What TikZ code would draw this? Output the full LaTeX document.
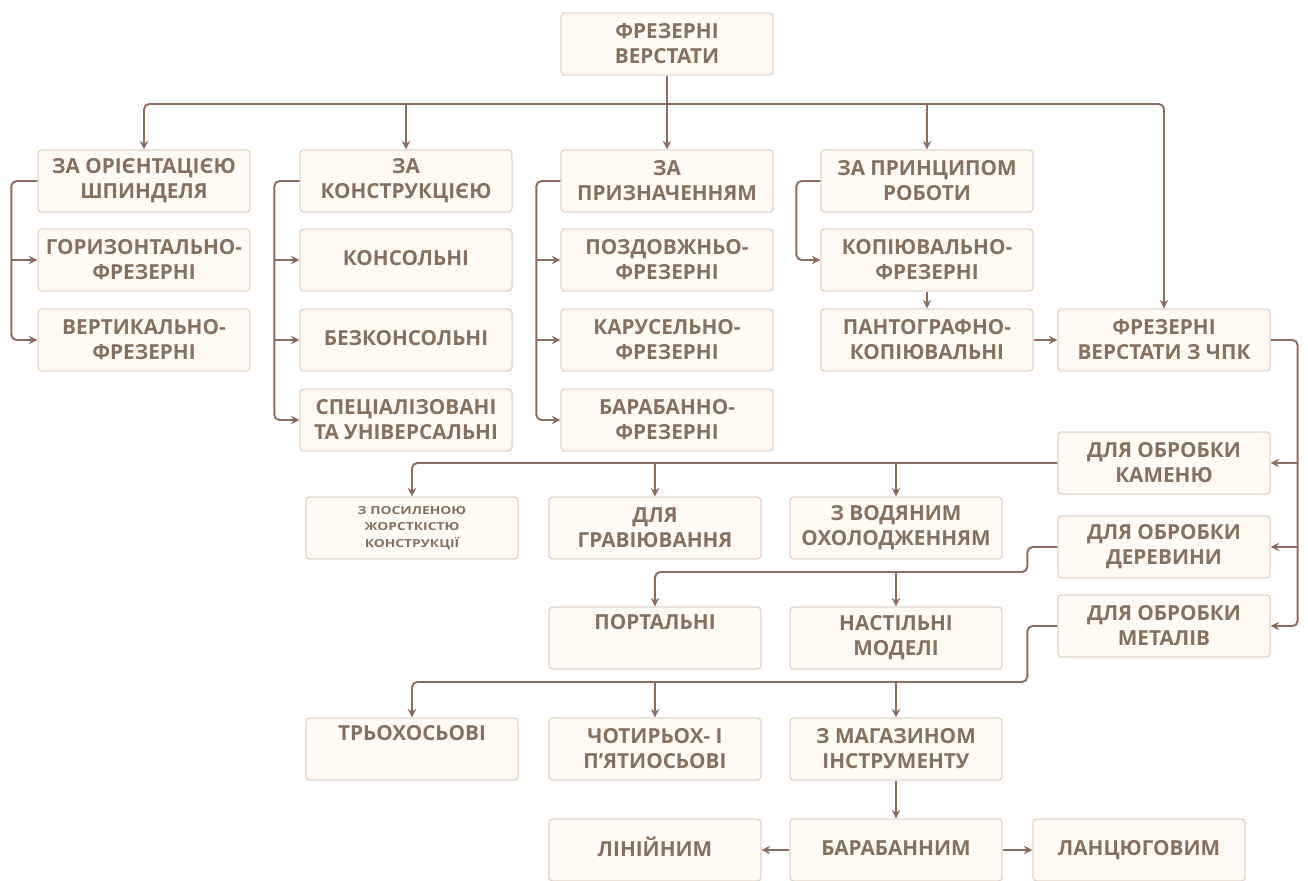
\documentclass[tikz,border=0pt]{standalone}
\usepackage{fontspec}
\setmainfont{Open Sans}[Ligatures=ResetAll]
\newfontfamily\widesans{Open Sans}[FakeStretch=1.25]
\usetikzlibrary{positioning,arrows.meta,calc}
\definecolor{linec}{HTML}{8C6C5E}
\definecolor{textc}{HTML}{86705F}
\definecolor{boxdraw}{HTML}{E3D4C7}
\definecolor{boxfill}{HTML}{FFFAF3}
\tikzstyle{box}=[draw=boxdraw, fill=boxfill, line width=0.8pt, rounded corners=2pt, text=textc, align=center, minimum width=4.24cm, minimum height=1.24cm, inner sep=1pt, font=\bfseries\fontsize{11.8}{14.3}\selectfont]
\tikzstyle{arr}=[draw=linec, line width=1.1pt, -{Stealth[length=4.8pt,width=4.8pt]}]

\begin{document}
\begin{tikzpicture}[x=0.02cm,y=-0.02cm]
   \useasboundingbox (0,0) rectangle (1308,880);
   \node[box] (root)    at (667,44)  {ФРЕЗЕРНІ\\ВЕРСТАТИ};
   % first level
   \node[box] (orient)  at (144,181) {ЗА ОРІЄНТАЦІЄЮ\\ШПИНДЕЛЯ};
   \node[box] (constr)  at (406,181) {ЗА\\КОНСТРУКЦІЄЮ};
   \node[box] (purp)    at (667,181) {ЗА\\ПРИЗНАЧЕННЯМ};
   \node[box] (princ)   at (927,181) {ЗА ПРИНЦИПОМ\\РОБОТИ};
   \node[box] (horiz)   at (144,260) {ГОРИЗОНТАЛЬНО-\\ФРЕЗЕРНІ};
   \node[box] (vert)    at (144,340) {ВЕРТИКАЛЬНО-\\ФРЕЗЕРНІ};
   \node[box] (cons)    at (406,260) {\strut КОНСОЛЬНІ};
   \node[box] (bezcons) at (406,340) {\strut БЕЗКОНСОЛЬНІ};
   \node[box] (spec)    at (406,420) {СПЕЦІАЛІЗОВАНІ\\ТА УНІВЕРСАЛЬНІ};
   \node[box] (longit)  at (667,260) {ПОЗДОВЖНЬО-\\ФРЕЗЕРНІ};
   \node[box] (carous)  at (667,340) {КАРУСЕЛЬНО-\\ФРЕЗЕРНІ};
   \node[box] (drum)    at (667,420) {БАРАБАННО-\\ФРЕЗЕРНІ};
   \node[box] (copy)    at (927,260) {КОПІЮВАЛЬНО-\\ФРЕЗЕРНІ};
   \node[box] (panto)   at (927,340) {ПАНТОГРАФНО-\\КОПІЮВАЛЬНІ};
   \node[box] (cnc)     at (1164,340) {ФРЕЗЕРНІ\\ВЕРСТАТИ З ЧПК};
   % cnc branch
   \node[box] (stone)   at (1164,463) {ДЛЯ ОБРОБКИ\\КАМЕНЮ};
   \node[box] (wood)    at (1164,547) {ДЛЯ ОБРОБКИ\\ДЕРЕВИНИ};
   \node[box] (metal)   at (1164,626) {ДЛЯ ОБРОБКИ\\МЕТАЛІВ};
   \node[box,font=\widesans\bfseries\fontsize{6.3}{9.6}\selectfont] (rigid) at (412,528) {З ПОСИЛЕНОЮ\\ЖОРСТКІСТЮ\\КОНСТРУКЦІЇ};
   \node[box] (engr)    at (655,528) {ДЛЯ\\ГРАВІЮВАННЯ};
   \node[box] (water)   at (896,528) {З ВОДЯНИМ\\ОХОЛОДЖЕННЯМ};
   \node[box] (portal)  at (655,638) {ПОРТАЛЬНІ\\\strut};
   \node[box] (desk)    at (896,638) {НАСТІЛЬНІ\\МОДЕЛІ};
   \node[box] (three)   at (412,749) {ТРЬОХОСЬОВІ\\\strut};
   \node[box] (five)    at (655,749) {ЧОТИРЬОХ- І\\П'ЯТИОСЬОВІ};
   \node[box] (magaz)   at (896,749) {З МАГАЗИНОМ\\ІНСТРУМЕНТУ};
   \node[box] (linear)  at (655,850) {\strut ЛІНІЙНИМ};
   \node[box] (drumm)   at (896,850) {\strut БАРАБАННИМ};
   \node[box] (chain)   at (1139,850) {\strut ЛАНЦЮГОВИМ};

   \coordinate (bus) at (667,104);
   \draw[arr] (root) -- (purp);
   \draw[arr,rounded corners=3pt] (bus) -| (orient);
   \draw[arr,rounded corners=3pt] (bus) -| (cnc);
   \draw[arr] (bus-|constr) -- (constr);
   \draw[arr] (bus-|princ) -- (princ);

   % brackets
   \draw[arr,rounded corners=3pt] (orient.west) -- ++(-26,0) |- (vert);
   \draw[arr] ([xshift=-0.52cm]horiz.west) -- (horiz);
   \draw[arr,rounded corners=3pt] (constr.west) -- ++(-25,0) |- (spec);
   \foreach \n in {cons,bezcons}
      \draw[arr] ([xshift=-0.5cm]\n.west) -- (\n);
   \draw[arr,rounded corners=3pt] (purp.west) -- ++(-24,0) |- (drum);
   \foreach \n in {longit,carous}
      \draw[arr] ([xshift=-0.48cm]\n.west) -- (\n);
   \draw[arr,rounded corners=3pt] (princ.west) -- ++(-24,0) |- (copy);
   \path (copy) edge[arr] (panto)
         (panto) edge[arr] (cnc);

   \draw[arr,rounded corners=3pt] (cnc.east) -- ++(27,0) |- (metal);
   \foreach \n in {stone,wood}
      \draw[arr] ([xshift=0.54cm]\n.east) -- (\n);

   \draw[arr,rounded corners=3pt] (stone.west) -| (rigid);
   \draw[arr] (stone.west-|engr) -- (engr);
   \draw[arr] (stone.west-|water) -- (water);

   \path (wood.west) ++(-30,25) coordinate (wj);
   \draw[arr,rounded corners=3pt] (wood.west) -- ++(-30,0) -- (wj) -| (portal);
   \draw[arr] (wj-|desk) -- (desk);

   \path (metal.west) ++(-30,56) coordinate (mj);
   \draw[arr,rounded corners=3pt] (metal.west) -- ++(-30,0) -- (mj) -| (three);
   \draw[arr] (mj-|five) -- (five);
   \draw[arr] (mj-|magaz) -- (magaz);

   \path (magaz) edge[arr] (drumm)
         (drumm) edge[arr] (linear)
         (drumm) edge[arr] (chain);
\end{tikzpicture}
\end{document}
